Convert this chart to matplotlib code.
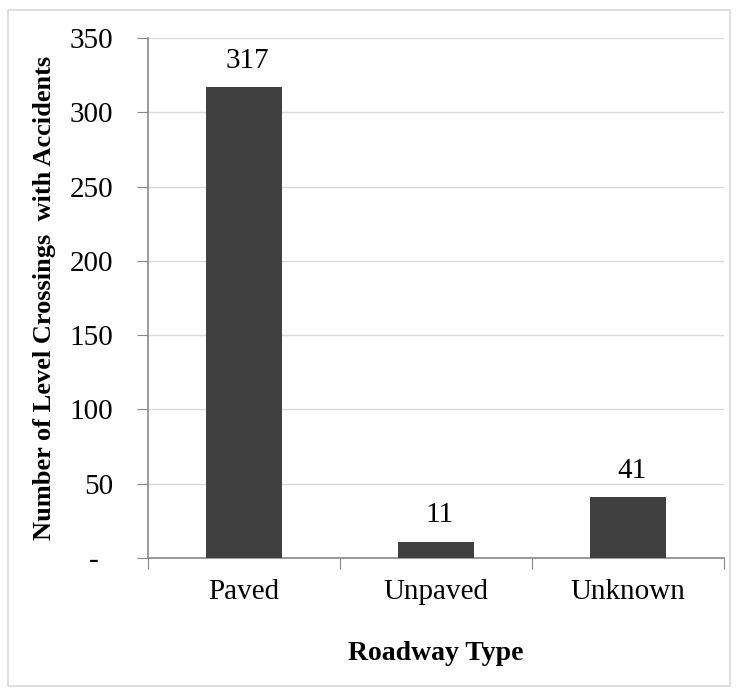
import matplotlib.pyplot as plt
from matplotlib.patches import Rectangle
from matplotlib.ticker import FuncFormatter, FixedLocator

# Level crossings with accidents by roadway type
roadway_types = ["Paved", "Unpaved", "Unknown"]
crossings = [317, 11, 41]

plt.rcParams["font.family"] = ["Liberation Serif", "DejaVu Serif"]

fig = plt.figure(figsize=(7.38, 6.95), dpi=100)
ax = fig.add_axes([148 / 738, 1 - 558 / 695, 576 / 738, 520 / 695])

# light frame round the whole chart
fig.patches.append(Rectangle((8 / 738, 1 - 686 / 695), 722 / 738, 676 / 695,
                             transform=fig.transFigure, fill=False,
                             edgecolor="#d9d9d9", linewidth=1.2))

x = range(len(roadway_types))
bars = ax.bar(x, crossings, width=0.4, color="#404040", zorder=3)

for xi, v in zip(x, crossings):
    ax.text(xi + 0.02, v + 9, str(v), ha="center", va="bottom", fontsize=21)

ax.set_xlim(-0.5, 2.5)
ax.set_ylim(0, 350)
ax.set_yticks(range(0, 351, 50))
ax.yaxis.set_major_formatter(FuncFormatter(lambda v, p: "-  " if v == 0 else f"{int(v)}"))
ax.grid(axis="y", color="#d9d9d9", linewidth=1, zorder=0)

# ticks sit between categories, labels in the middle
ax.xaxis.set_major_locator(FixedLocator([-0.5, 0.5, 1.5, 2.5]))
ax.xaxis.set_minor_locator(FixedLocator(list(x)))
ax.set_xticklabels([])
ax.set_xticklabels(roadway_types, minor=True)
ax.tick_params(axis="x", which="major", length=8, color="#898989", direction="out")
ax.tick_params(axis="x", which="minor", length=0, pad=15, labelsize=21)
ax.tick_params(axis="y", length=8, color="#898989", pad=17, labelsize=21)

for side in ["top", "right"]:
    ax.spines[side].set_visible(False)
for side in ["left", "bottom"]:
    ax.spines[side].set_color("#898989")
    ax.spines[side].set_linewidth(1.2)

ax.set_ylabel("Number of Level Crossings  with Accidents", fontsize=19,
              fontweight="bold", labelpad=10)
ax.set_xlabel("Roadway Type", fontsize=20, fontweight="bold", labelpad=26)

fig.savefig("out.png", dpi=100)
